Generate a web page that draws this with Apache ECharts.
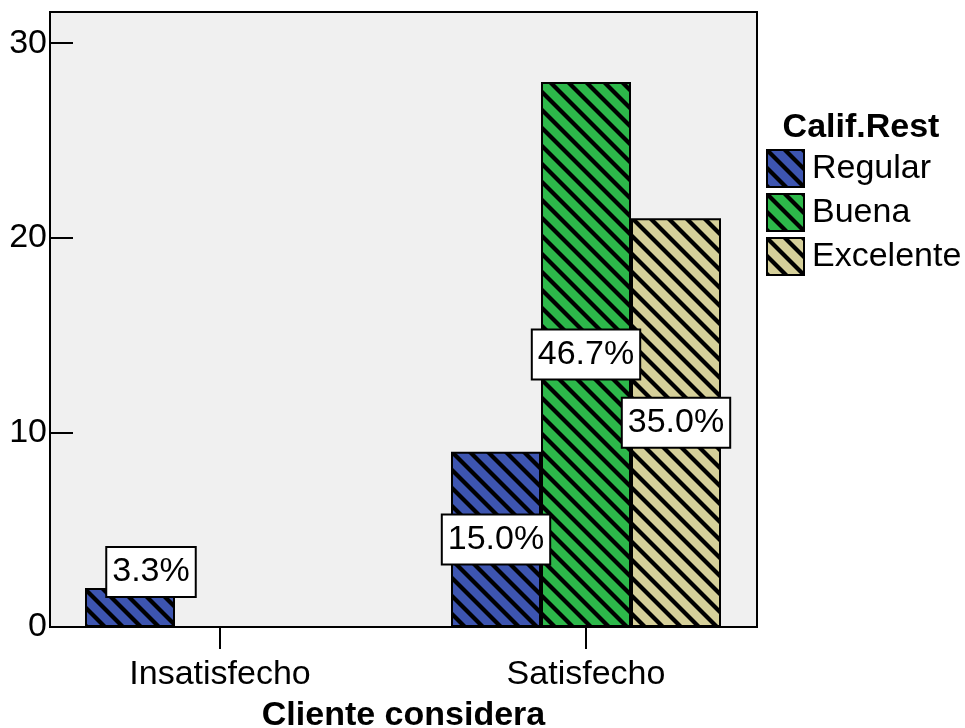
<!DOCTYPE html>
<html>
<head>
<meta charset="utf-8">
<script src="https://cdn.jsdelivr.net/npm/echarts@6/dist/echarts.min.js"></script>
<style>html,body{margin:0;padding:0;background:#fff}#c{width:965px;height:728px}</style>
</head>
<body>
<div id="c"></div>
<script>
const categories = ['Insatisfecho', 'Satisfecho'];
const seriesNames = ['Regular', 'Buena', 'Excelente'];
const regular = [2, 9];
const buena = ['-', 28];
const excelente = ['-', 21];
const yTicks = [0, 10, 20, 30];

const FONT = 'Liberation Sans, Arial, sans-serif';
const FS = 34;
const colors = ['#3D55B0', '#2DB84A', '#D6D09A'];
const dataSets = [regular, buena, excelente];
const total = dataSets.flat().filter(v => typeof v === 'number').reduce((a, b) => a + b, 0);

function makePattern(color) {
  const s = 18;
  const cv = document.createElement('canvas');
  cv.width = s; cv.height = s;
  const ctx = cv.getContext('2d');
  ctx.fillStyle = color;
  ctx.fillRect(0, 0, s, s);
  ctx.strokeStyle = '#000';
  ctx.lineWidth = 4.2;
  for (const c of [-s, 0, s]) {
    ctx.beginPath();
    ctx.moveTo(-2, c - 2);
    ctx.lineTo(s + 2, c + s + 2);
    ctx.stroke();
  }
  return { image: cv, repeat: 'repeat' };
}

const labelBase = {
  show: true,
  position: 'inside',
  formatter: p => (p.value / total * 100).toFixed(1) + '%',
  fontFamily: FONT,
  fontSize: FS,
  lineHeight: 38,
  color: '#000',
  backgroundColor: '#fff',
  borderColor: '#000',
  borderWidth: 2,
  padding: [6, 5, 4, 5]
};

const series = seriesNames.map((name, i) => ({
  name,
  type: 'bar',
  xAxisIndex: 1,
  yAxisIndex: 1,
  barWidth: 90,
  barGap: '0%',
  itemStyle: { color: makePattern(colors[i]), borderColor: '#000', borderWidth: 2 },
  label: labelBase,
  data: dataSets[i].map((v, j) => {
    if (i === 0 && j === 0) {
      return { value: v, label: { offset: [21, -35.5] } };
    }
    return v;
  })
}));

const chart = echarts.init(document.getElementById('c'));
chart.setOption({
  animation: false,
  backgroundColor: '#fff',
  grid: [
    { left: 50, top: 12, width: 707, height: 615, show: true, backgroundColor: '#F0F0F0', borderColor: '#000', borderWidth: 2, z: 0 },
    { left: 37, top: 12, width: 732, height: 615 }
  ],
  xAxis: [
    { gridIndex: 0, type: 'value', show: false, min: 0, max: 1 },
    {
      gridIndex: 1, type: 'category', data: categories,
      axisLine: { show: false },
      axisTick: { show: true, alignWithLabel: true, length: 22, lineStyle: { color: '#000', width: 2 } },
      axisLabel: { fontFamily: FONT, fontSize: FS, color: '#000', margin: 31 }
    }
  ],
  yAxis: [
    {
      gridIndex: 0, type: 'value', min: 0, max: 31.6, interval: 10,
      axisLine: { show: true, lineStyle: { color: '#000', width: 2 } },
      axisTick: { show: true, inside: true, length: 23, lineStyle: { color: '#000', width: 2 } },
      axisLabel: { fontFamily: FONT, fontSize: FS, color: '#000', margin: 3, formatter: v => yTicks.includes(v) ? String(v) : '' },
      splitLine: { show: false }
    },
    { gridIndex: 1, type: 'value', min: 0, max: 31.6, interval: 10, show: false, splitLine: { show: false } }
  ],
  legend: {
    orient: 'vertical',
    left: 766,
    top: 149,
    itemWidth: 37,
    itemHeight: 37,
    itemGap: 5,
    icon: 'rect',
    padding: 0,
    data: seriesNames,
    textStyle: { fontFamily: FONT, fontSize: FS, lineHeight: 37, color: '#000', padding: [0, 0, 0, 3] },
    itemStyle: { borderColor: '#000', borderWidth: 2 }
  },
  graphic: [
    { type: 'text', x: 861, y: 128, style: { text: 'Calif.Rest', font: 'bold ' + FS + 'px ' + FONT, fill: '#000', textAlign: 'center', textVerticalAlign: 'middle' } },
    { type: 'text', x: 403.5, y: 716, style: { text: 'Cliente considera', font: 'bold ' + FS + 'px ' + FONT, fill: '#000', textAlign: 'center', textVerticalAlign: 'middle' } }
  ],
  series
});
</script>
</body>
</html>
